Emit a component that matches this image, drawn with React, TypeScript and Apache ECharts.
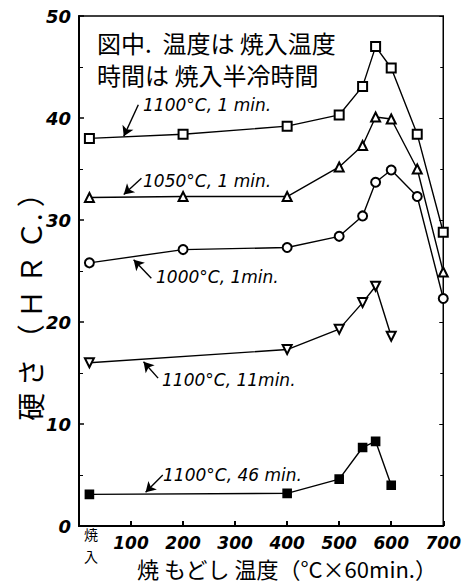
import React, { useEffect, useRef } from "react";
import * as echarts from "echarts";

const tempsA = [20, 200, 400, 500, 545, 570, 600, 650, 700];
const tempsB = [20, 400, 500, 545, 570, 600];
const h1100_1 = [38.0, 38.4, 39.2, 40.3, 43.1, 47.0, 44.9, 38.4, 28.8];
const h1050_1 = [32.2, 32.3, 32.3, 35.2, 37.3, 40.1, 39.9, 35.0, 24.9];
const h1000_1 = [25.8, 27.1, 27.3, 28.4, 30.4, 33.7, 34.9, 32.3, 22.3];
const h1100_11 = [16.0, 17.3, 19.3, 21.9, 23.5, 18.6];
const h1100_46 = [3.1, 3.2, 4.6, 7.7, 8.3, 4.0];
const xTicks = [100, 200, 300, 400, 500, 600, 700];
const yTicks = [0, 10, 20, 30, 40, 50];
// arrows: [tailX, tailY, headX, headY] in data units
const arrows = [
  [114, 41.3, 86, 38.2],
  [120, 34.1, 86, 32.5],
  [139, 24.3, 105, 26.1],
  [152, 14.5, 124, 16.1],
  [161, 5.0, 128, 3.3],
];

const hand = "'DejaVu Sans', 'Noto Sans CJK JP', sans-serif";
const cjk = "'Noto Sans CJK JP', sans-serif";

function zip(xs: number[], ys: number[]) {
  return xs.map((x, i) => [x, ys[i]]);
}

export default function App() {
  const ref = useRef<HTMLDivElement>(null);
  useEffect(() => {
    const chart = echarts.init(ref.current!, null, { renderer: "svg" });
    const lineStyle = { color: "#000", width: 1.4 };
    const mk = (name: string, data: number[][], symbol: string, extra: any = {}) => ({
      name,
      type: "line",
      data,
      symbol,
      symbolSize: 9,
      lineStyle,
      itemStyle: { color: "#000", borderColor: "#000", borderWidth: 1.6 },
      ...extra,
    });
    const lbl = (text: string, x: number, y: number) => ({
      type: "text",
      x,
      y,
      style: { text, font: `italic 17px ${hand}`, fill: "#000", verticalAlign: "middle" },
    });
    chart.setOption({
      animation: false,
      backgroundColor: "#fff",
      grid: { left: 79, right: 12, top: 16, bottom: 59, show: true, borderColor: "#000", borderWidth: 1.5 },
      xAxis: {
        type: "value",
        min: 0,
        max: 700,
        interval: 100,
        axisLine: { lineStyle: { color: "#000", width: 2 } },
        axisTick: { inside: true, length: 5, lineStyle: { color: "#000", width: 2 } },
        axisLabel: {
          customValues: xTicks,
          color: "#000",
          fontSize: 17,
          fontStyle: "italic",
          fontWeight: "bold",
          fontFamily: hand,
          margin: 8,
        },
        splitLine: { show: false },
      },
      yAxis: [
        {
          type: "value",
          min: 0,
          max: 50,
          interval: 10,
          axisLine: { show: true, lineStyle: { color: "#000", width: 2 } },
          axisTick: { inside: true, length: 5, lineStyle: { color: "#000", width: 1.5 } },
          minorTick: { show: true, splitNumber: 2, length: 4, lineStyle: { color: "#000" } },
          axisLabel: {
            customValues: yTicks,
            color: "#000",
            fontSize: 18,
            fontStyle: "italic",
            fontWeight: "bold",
            fontFamily: hand,
            margin: 8,
          },
          splitLine: { show: false },
        },
        {
          type: "value",
          position: "right",
          min: 0,
          max: 50,
          interval: 10,
          axisLine: { show: false },
          axisTick: { show: true, inside: true, length: 4, lineStyle: { color: "#000" } },
          minorTick: { show: true, splitNumber: 2, length: 3, lineStyle: { color: "#000" } },
          axisLabel: { show: false },
          splitLine: { show: false },
        },
      ],
      series: [
        mk("1100°C, 1 min.", zip(tempsA, h1100_1), "emptyRect"),
        mk("1050°C, 1 min.", zip(tempsA, h1050_1), "emptyTriangle"),
        mk("1000°C, 1min.", zip(tempsA, h1000_1), "emptyCircle"),
        mk("1100°C, 11min.", zip(tempsB, h1100_11), "emptyTriangle", { symbolRotate: 180 }),
        mk("1100°C, 46 min.", zip(tempsB, h1100_46), "rect", { symbolSize: 8 }),
        {
          type: "line",
          data: [],
          markLine: {
            silent: true,
            symbol: ["none", "arrow"],
            symbolSize: [9, 10],
            label: { show: false },
            lineStyle: { color: "#000", width: 1.4, type: "solid" },
            data: arrows.map((a) => [{ coord: [a[0], a[1]] }, { coord: [a[2], a[3]] }]),
          },
        },
      ],
      graphic: [
        { type: "text", x: 97, y: 42, style: { text: "図中.  温度は 焼入温度", font: `24px ${cjk}`, fill: "#000", verticalAlign: "middle" } },
        { type: "text", x: 97, y: 74, style: { text: "時間は 焼入半冷時間", font: `24px ${cjk}`, fill: "#000", verticalAlign: "middle" } },
        { type: "text", x: 91, y: 534, style: { text: "焼", font: `14px ${cjk}`, fill: "#000", align: "center", verticalAlign: "middle" } },
        { type: "text", x: 91, y: 556, style: { text: "入", font: `14px ${cjk}`, fill: "#000", align: "center", verticalAlign: "middle" } },
        lbl("1100°C, 1 min.", 143, 105),
        lbl("1050°C, 1 min.", 143, 181),
        lbl("1000°C, 1min.", 156, 277),
        lbl("1100°C, 11min.", 162, 380),
        lbl("1100°C, 46 min.", 163, 475),
        {
          type: "text",
          x: 30,
          y: 300,
          rotation: Math.PI / 2,
          style: { text: "硬 さ （ Ｈ Ｒ Ｃ. ）", font: `28px ${cjk}`, fill: "#000", align: "center", verticalAlign: "middle" },
        },
        {
          type: "text",
          x: 287,
          y: 568,
          style: { text: "焼 もどし 温度（°C×60min.）", font: `22px ${cjk}`, fill: "#000", align: "center", verticalAlign: "middle" },
        },
      ],
    });
    return () => chart.dispose();
  }, []);
  return <div ref={ref} style={{ position: "fixed", left: 0, top: 0, width: 464, height: 585 }} />;
}
